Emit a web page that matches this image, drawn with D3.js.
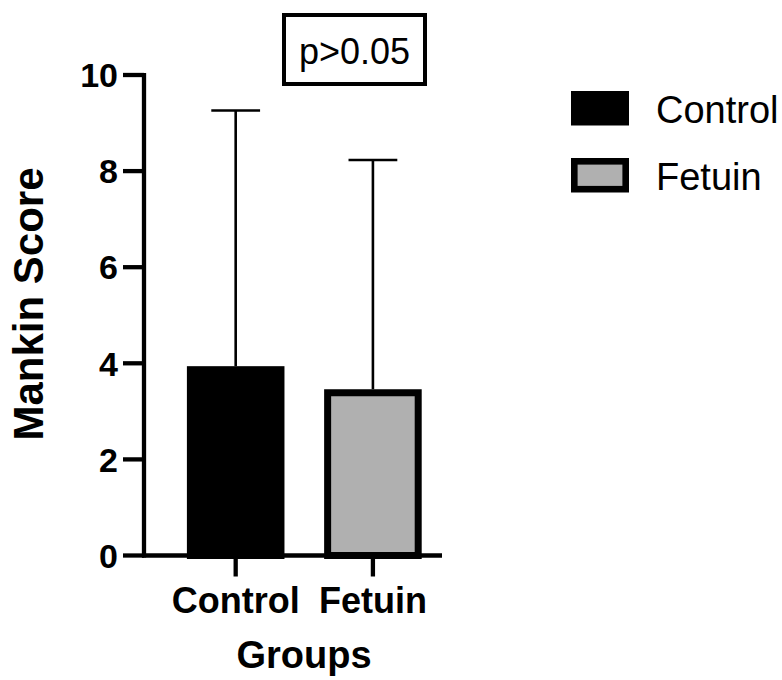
<!DOCTYPE html>
<html>
<head>
<meta charset="utf-8">
<script src="https://cdnjs.cloudflare.com/ajax/libs/d3/7.8.5/d3.min.js"></script>
<style>
  body { margin: 0; background: #fff; }
  svg { display: block; font-family: "Liberation Sans", Arial, Helvetica, sans-serif; }
</style>
</head>
<body>
<svg width="782" height="680"></svg>
<script>
const groups = ["Control", "Fetuin"];
const means = [3.94, 3.46];
const sds = [5.32, 4.77];
const fills = ["#000000", "#b0b0b0"];
const yTicks = [0, 2, 4, 6, 8, 10];
const pLabel = "p>0.05";

const svg = d3.select("svg");

const x0 = 144, x1 = 442;
const y = d3.scaleLinear().domain([0, 10]).range([555.5, 75]);
const x = d3.scaleBand().domain(groups).range([186.9, 421.7]).paddingInner(0.289).paddingOuter(0);

const bw = 7; // bar border
// bars
svg.append("g").selectAll("rect")
  .data(groups)
  .enter().append("rect")
  .attr("x", d => x(d) + bw / 2)
  .attr("y", (d, i) => y(means[i]) + bw / 2)
  .attr("width", x.bandwidth() - bw)
  .attr("height", (d, i) => y(0) - y(means[i]) - bw / 2)
  .attr("fill", (d, i) => fills[i])
  .attr("stroke", "#000")
  .attr("stroke-width", bw);

// error bars (upper only)
const err = svg.append("g").attr("stroke", "#000").attr("stroke-width", 2.6);
groups.forEach((g, i) => {
  let cx = x(g) + x.bandwidth() / 2;
  let top = y(means[i] + sds[i]);
  err.append("line")
    .attr("x1", cx).attr("x2", cx)
    .attr("y1", y(means[i])).attr("y2", top);
  err.append("line")
    .attr("x1", cx - x.bandwidth() / 4).attr("x2", cx + x.bandwidth() / 4)
    .attr("y1", top).attr("y2", top);
});

// y axis
const yAxis = svg.append("g");
yAxis.append("line")
  .attr("x1", x0).attr("x2", x0)
  .attr("y1", y(10) - 2).attr("y2", y(0) + 2)
  .attr("stroke", "#000").attr("stroke-width", 4.3);
yAxis.selectAll(".tick")
  .data(yTicks)
  .enter().append("line")
  .attr("x1", 123).attr("x2", x0)
  .attr("y1", d => y(d)).attr("y2", d => y(d))
  .attr("stroke", "#000").attr("stroke-width", 4.3);
yAxis.selectAll("text")
  .data(yTicks)
  .enter().append("text")
  .attr("x", 118)
  .attr("y", d => y(d))
  .attr("dy", "0.36em")
  .attr("text-anchor", "end")
  .attr("font-size", 34)
  .attr("font-weight", "bold")
  .text(d => d);

// x axis
const xAxis = svg.append("g");
xAxis.append("line")
  .attr("x1", x0 - 2).attr("x2", x1)
  .attr("y1", y(0)).attr("y2", y(0))
  .attr("stroke", "#000").attr("stroke-width", 4.3);
xAxis.selectAll(".tick")
  .data(groups)
  .enter().append("line")
  .attr("x1", d => x(d) + x.bandwidth() / 2).attr("x2", d => x(d) + x.bandwidth() / 2)
  .attr("y1", y(0)).attr("y2", y(0) + 21)
  .attr("stroke", "#000").attr("stroke-width", 4.3);
xAxis.selectAll("text")
  .data(groups)
  .enter().append("text")
  .attr("x", d => x(d) + x.bandwidth() / 2)
  .attr("y", 612.5)
  .attr("text-anchor", "middle")
  .attr("font-size", 36)
  .attr("font-weight", "bold")
  .text(d => d);

// axis titles
svg.append("text")
  .attr("x", 304).attr("y", 668)
  .attr("text-anchor", "middle")
  .attr("font-size", 38)
  .attr("font-weight", "bold")
  .text("Groups");
svg.append("text")
  .attr("transform", "translate(43,304) rotate(-90)")
  .attr("text-anchor", "middle")
  .attr("font-size", 42)
  .attr("font-weight", "bold")
  .text("Mankin Score");

// p-value box
svg.append("rect")
  .attr("x", 284).attr("y", 15)
  .attr("width", 141).attr("height", 69)
  .attr("fill", "none")
  .attr("stroke", "#000").attr("stroke-width", 4);
svg.append("text")
  .attr("x", 354.5).attr("y", 64)
  .attr("text-anchor", "middle")
  .attr("font-size", 36)
  .text(pLabel);

// legend
const legend = svg.append("g");
groups.forEach((g, i) => {
  let ly = 108 + i * 67;
  legend.append("rect")
    .attr("x", 571 + 3.3).attr("y", ly - 17 + 3.3)
    .attr("width", 58 - 6.6).attr("height", 34.5 - 6.6)
    .attr("fill", fills[i])
    .attr("stroke", "#000").attr("stroke-width", 6.6);
  legend.append("text")
    .attr("x", 656).attr("y", ly + 15)
    .attr("font-size", 38)
    .text(g);
});
</script>
</body>
</html>
